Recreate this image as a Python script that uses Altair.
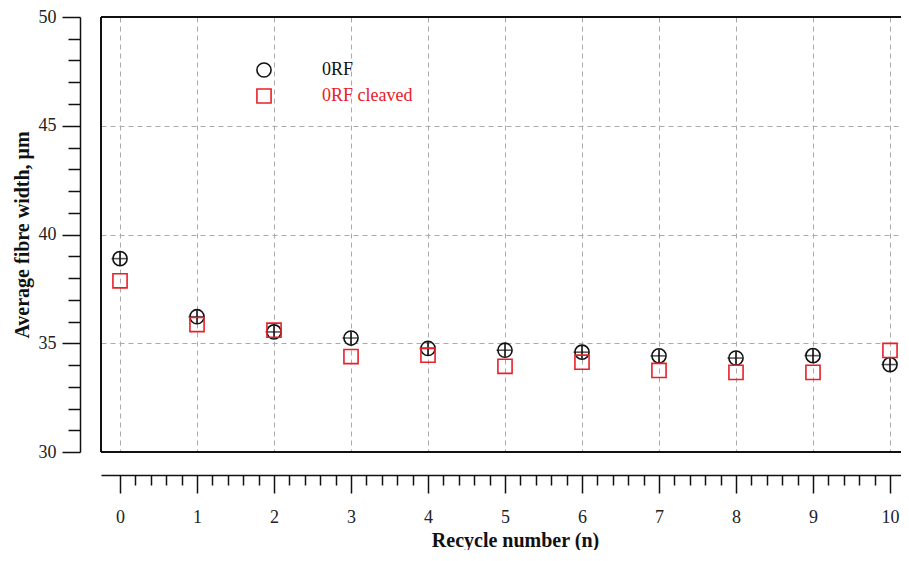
import altair as alt
import pandas as pd

recycle = list(range(11))
orf = [38.89, 36.22, 35.52, 35.24, 34.76, 34.68, 34.59, 34.42, 34.32, 34.43, 34.02]
orf_err = [0.3, 0.3, 0.3, 0.3, 0.3, 0.3, 0.3, 0.3, 0.3, 0.3, 0.3]
orf_cleaved = [37.87, 35.86, 35.60, 34.39, 34.45, 33.94, 34.13, 33.75, 33.66, 33.66, 34.67]
series_names = ["0RF", "0RF cleaved"]
x_ticks = [round(i * 0.2, 1) for i in range(51)]
y_ticks = list(range(30, 51))

FONT = "Liberation Serif"
RED = "#e8202a"
X_DOMAIN = [-0.247, 10.143]
W = 800
H = 435

df = pd.DataFrame({
    "n": recycle * 2,
    "width": orf + orf_cleaved,
    "series": [series_names[0]] * 11 + [series_names[1]] * 11,
})
err = pd.DataFrame({
    "n": recycle,
    "lo": [v - e for v, e in zip(orf, orf_err)],
    "hi": [v + e for v, e in zip(orf, orf_err)],
    "width": orf,
})

is_int = "abs(datum.value - round(datum.value)) < 0.01"
is_five = "datum.value % 5 == 0"

x_axis = alt.Axis(
    values=x_ticks, offset=23, title="Recycle number (n)",
    tickSize={"condition": {"test": is_int, "value": 18}, "value": 10},
    gridOpacity={"condition": {"test": is_int, "value": 1}, "value": 0},
    labelExpr=f"{is_int} ? format(datum.value, 'd') : ''",
    labelOverlap=False, labelFlush=False,
    labelFont=FONT, labelFontSize=18, labelColor="#222", labelPadding=15,
    titleFont=FONT, titleFontSize=20, titleFontWeight="bold", titleColor="#111",
    titlePadding=4, titleX=414, titleAlign="center",
    tickColor="#111", tickWidth=1.5, domainColor="#111", domainWidth=1.5,
    gridColor="#aaaaaa", gridDash=[5, 4], gridWidth=1,
)
y_axis = alt.Axis(
    values=y_ticks, offset=21, title="Average fibre width, μm",
    tickSize={"condition": {"test": is_five, "value": 18}, "value": 12},
    gridOpacity={"condition": {"test": is_five, "value": 1}, "value": 0},
    labelExpr=f"{is_five} ? format(datum.value, 'd') : ''",
    labelOverlap=False, labelFlush=False,
    labelFont=FONT, labelFontSize=18, labelColor="#222", labelPadding=6,
    titleFont=FONT, titleFontSize=20, titleFontWeight="bold", titleColor="#111", titlePadding=6,
    tickColor="#111", tickWidth=1.5, domainColor="#111", domainWidth=1.5,
    gridColor="#aaaaaa", gridDash=[5, 4], gridWidth=1,
)

xs = alt.Scale(domain=X_DOMAIN, nice=False, zero=False)
ys = alt.Scale(domain=[30, 50], nice=False, zero=False)

legend = alt.Legend(
    title=None, orient="none", legendX=154, legendY=44,
    symbolSize=200, symbolStrokeWidth=1.6, labelFont=FONT, labelFontSize=18,
    labelOffset=49, rowPadding=4, padding=0,
    labelColor={"expr": f"datum.label == '{series_names[1]}' ? '{RED}' : '#111'"},
)

points = alt.Chart(df).mark_point(filled=False, size=200, strokeWidth=1.6, opacity=1).encode(
    x=alt.X("n:Q", scale=xs, axis=x_axis),
    y=alt.Y("width:Q", scale=ys, axis=y_axis),
    color=alt.Color("series:N", scale=alt.Scale(domain=series_names, range=["#111", RED]), legend=legend),
    shape=alt.Shape("series:N", scale=alt.Scale(domain=series_names, range=["circle", "square"]), legend=legend),
)

ebar = alt.Chart(err).mark_rule(color="#111", strokeWidth=1.6).encode(
    x=alt.X("n:Q", scale=xs, axis=x_axis),
    y=alt.Y("lo:Q", scale=ys, axis=y_axis),
    y2="hi:Q",
)
ecap = alt.Chart(err).mark_tick(orient="horizontal", color="#111", size=15, thickness=1.6, xOffset=-1).encode(
    x=alt.X("n:Q", scale=xs, axis=x_axis),
    y=alt.Y("width:Q", scale=ys, axis=y_axis),
)

one = alt.Data(values=[{"a": 1}])
frame_top = alt.Chart(one).mark_rule(color="#111", strokeWidth=2).encode(
    x=alt.value(0), x2=alt.value(W), y=alt.value(0))
frame_bottom = alt.Chart(one).mark_rule(color="#111", strokeWidth=2).encode(
    x=alt.value(0), x2=alt.value(W), y=alt.value(H))
frame_left = alt.Chart(one).mark_rule(color="#111", strokeWidth=2).encode(
    x=alt.value(0), y=alt.value(0), y2=alt.value(H))

chart = alt.layer(ebar, ecap, points, frame_top, frame_bottom, frame_left).properties(
    width=W, height=H,
    autosize=alt.AutoSizeParams(type="none"),
    padding={"left": 93, "top": 9, "right": 0, "bottom": 98},
).configure_view(stroke="transparent", strokeWidth=0).configure(background="white")

chart.save("out.html", embed_options={"renderer": "svg", "actions": False})
